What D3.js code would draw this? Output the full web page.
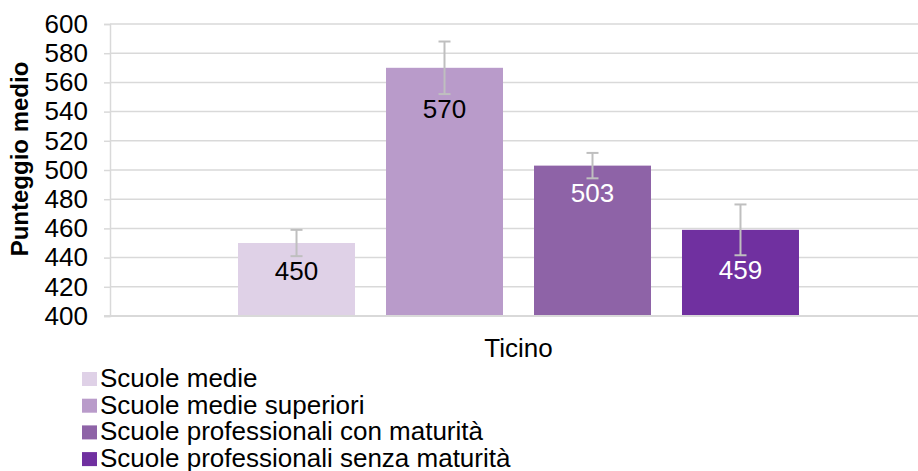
<!DOCTYPE html>
<html>
<head>
<meta charset="utf-8">
<script src="https://cdn.jsdelivr.net/npm/d3@7"></script>
<style>
  html, body { margin: 0; padding: 0; background: #fff; }
  svg { display: block; font-family: "Liberation Sans", Arial, sans-serif; }
</style>
</head>
<body>
<svg id="chart" width="918" height="471"></svg>
<script>
const categories = ["Ticino"];
const seriesNames = [
  "Scuole medie",
  "Scuole medie superiori",
  "Scuole professionali con maturità",
  "Scuole professionali senza maturità"
];
const values = [450, 570, 503, 459];
const errors = [9, 18, 8.7, 17.4];
const colors = ["#dfd1e7", "#b99bca", "#8e63a7", "#7030a0"];
const labelColors = ["#000000", "#000000", "#ffffff", "#ffffff"];
const yTicks = [400, 420, 440, 460, 480, 500, 520, 540, 560, 580, 600];

const svg = d3.select("#chart");
const W = 918, H = 471;
const plot = { left: 110, right: 927, top: 24, bottom: 316 };
const FS = 26;

const y = d3.scaleLinear().domain([400, 600]).range([plot.bottom, plot.top]);
const x0 = d3.scaleBand().domain(categories).range([plot.left, plot.right]).padding(0);
const x1 = d3.scaleBand().domain(seriesNames).range([0, x0.bandwidth()])
  .paddingInner(31 / 148).paddingOuter(0.865);

svg.append("defs").append("clipPath").attr("id", "clip")
  .append("rect").attr("x", 0).attr("y", 0).attr("width", W).attr("height", H);

const g = svg.append("g").attr("clip-path", "url(#clip)");

// gridlines
g.append("g").selectAll("line").data(yTicks.filter(d => d !== 400)).join("line")
  .attr("x1", plot.left).attr("x2", plot.right)
  .attr("y1", d => y(d)).attr("y2", d => y(d))
  .attr("stroke", "#d9d9d9").attr("stroke-width", 1.5);

// y axis
const yAxis = d3.axisLeft(y).tickValues(yTicks).tickSize(6).tickPadding(16).tickFormat(d3.format("d"));
const ya = g.append("g").attr("transform", `translate(${plot.left},0)`).call(yAxis);
ya.select(".domain").attr("stroke", "#d9d9d9").attr("stroke-width", 1.5);
ya.selectAll(".tick line").attr("stroke", "#d9d9d9").attr("stroke-width", 1.5);
ya.selectAll(".tick text").attr("font-size", FS).attr("fill", "#000")
  .attr("font-family", "'Liberation Sans', Arial, sans-serif");

// bars
const data = seriesNames.map((s, i) => ({ s, v: values[i], e: errors[i], c: colors[i], lc: labelColors[i] }));
const grp = g.append("g").attr("transform", `translate(${x0("Ticino")},0)`);
grp.selectAll("rect").data(data).join("rect")
  .attr("x", d => x1(d.s)).attr("width", x1.bandwidth())
  .attr("y", d => y(d.v)).attr("height", d => y(400) - y(d.v))
  .attr("fill", d => d.c);

// x axis line
g.append("line").attr("x1", plot.left - 6).attr("x2", plot.right)
  .attr("y1", y(400)).attr("y2", y(400))
  .attr("stroke", "#d9d9d9").attr("stroke-width", 2);

// error bars
const eb = grp.selectAll("g.err").data(data).join("g").attr("class", "err")
  .attr("transform", d => `translate(${x1(d.s) + x1.bandwidth() / 2},0)`);
eb.append("line").attr("x1", 0).attr("x2", 0)
  .attr("y1", d => y(d.v + d.e)).attr("y2", d => y(d.v - d.e))
  .attr("stroke", "#bfbfbf").attr("stroke-width", 2);
eb.append("line").attr("x1", -6).attr("x2", 6)
  .attr("y1", d => y(d.v + d.e)).attr("y2", d => y(d.v + d.e))
  .attr("stroke", "#bfbfbf").attr("stroke-width", 2);
eb.append("line").attr("x1", -6).attr("x2", 6)
  .attr("y1", d => y(d.v - d.e)).attr("y2", d => y(d.v - d.e))
  .attr("stroke", "#bfbfbf").attr("stroke-width", 2);

// data labels
grp.selectAll("text.lbl").data(data).join("text").attr("class", "lbl")
  .attr("x", d => x1(d.s) + x1.bandwidth() / 2)
  .attr("y", d => y(d.v - d.e) + 24)
  .attr("text-anchor", "middle").attr("font-size", FS)
  .attr("fill", d => d.lc).text(d => d3.format("d")(d.v));

// category label
svg.append("text").attr("x", x0("Ticino") + x0.bandwidth() / 2).attr("y", 357)
  .attr("text-anchor", "middle").attr("font-size", FS).attr("fill", "#000").text("Ticino");

// y axis title
svg.append("text")
  .attr("transform", `translate(28,${(plot.top + plot.bottom) / 2 - 11}) rotate(-90)`)
  .attr("text-anchor", "middle").attr("font-size", 24).attr("font-weight", "bold")
  .attr("fill", "#000").text("Punteggio medio");

// legend
const leg = svg.append("g").attr("transform", "translate(82,372)");
const li = leg.selectAll("g").data(data).join("g")
  .attr("transform", (d, i) => `translate(0,${i * 26.7})`);
li.append("rect").attr("width", 15).attr("height", 14).attr("fill", d => d.c);
li.append("text").attr("x", 18).attr("y", 15).attr("font-size", FS).attr("fill", "#000").text(d => d.s);
</script>
</body>
</html>
